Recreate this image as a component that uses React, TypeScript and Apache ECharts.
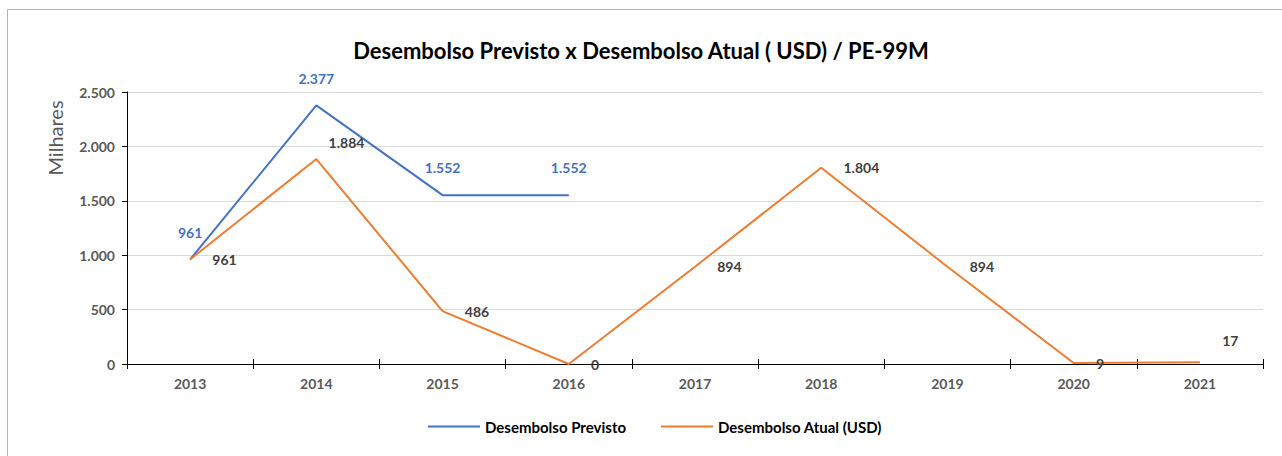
import React, { useEffect, useRef } from "react";
import * as echarts from "echarts";

const categories = ["2013", "2014", "2015", "2016", "2017", "2018", "2019", "2020", "2021"];
const previsto = [961, 2377, 1552, 1552, null, null, null, null, null];
const atual = [961, 1884, 486, 0, 894, 1804, 894, 9, 17];
const yTicks = { min: 0, max: 2500, interval: 500 };

const BLUE = "#4472C4";
const ORANGE = "#ED7D31";
const FONT = "Lato, 'Noto Sans', sans-serif";

const fmt = (v: number) => String(v).replace(/\B(?=(\d{3})+(?!\d))/g, ".");

export default function App() {
  const ref = useRef<HTMLDivElement>(null);
  useEffect(() => {
    if (!ref.current) return;
    const chart = echarts.init(ref.current, undefined, { renderer: "svg" });
    const atualData = atual.map((v, i) => {
      if (i === 1) return { value: v, label: { offset: [-10, -17] } };
      if (i === 8) return { value: v, label: { offset: [0, -22] } };
      return { value: v };
    });
    chart.setOption({
      animation: false,
      backgroundColor: "#ffffff",
      textStyle: { fontFamily: FONT },
      title: {
        text: "Desembolso Previsto x Desembolso Atual ( USD) / PE-99M",
        left: "center",
        top: 34,
        textStyle: { fontFamily: FONT, fontSize: 22, fontWeight: "bold", color: "#000000" },
      },
      graphic: [
        {
          type: "rect",
          shape: { x: 7.5, y: 9.5, width: 1400, height: 600 },
          style: { fill: "none", stroke: "#b4b4b4", lineWidth: 1 },
          silent: true,
        },
        {
          type: "text",
          x: 55,
          y: 138,
          rotation: Math.PI / 2,
          style: {
            text: "Milhares",
            fontFamily: FONT,
            fontSize: 20,
            fill: "#595959",
            textAlign: "center",
            textVerticalAlign: "middle",
          },
        },
      ],
      legend: {
        bottom: 17,
        left: 423,
        itemWidth: 52,
        itemHeight: 2,
        itemGap: 35,
        icon: "rect",
        textStyle: { fontFamily: FONT, fontSize: 15, fontWeight: "bold", color: "#000000" },
        data: ["Desembolso Previsto", "Desembolso Atual (USD)"],
      },
      grid: { left: 127, right: 19, top: 92, bottom: 92, containLabel: false },
      xAxis: [
        {
          type: "category",
          data: categories,
          boundaryGap: true,
          axisLine: { lineStyle: { color: "#000000", width: 1 } },
          axisTick: { show: true, inside: false, length: 5, lineStyle: { color: "#000000" } },
          axisLabel: { color: "#595959", fontWeight: "bold", fontSize: 14, margin: 12, fontFamily: FONT },
          splitLine: { show: false },
        },
        {
          type: "category",
          data: categories,
          position: "bottom",
          boundaryGap: true,
          axisLine: { show: false },
          axisTick: { show: true, inside: true, length: 5, lineStyle: { color: "#000000" } },
          axisLabel: { show: false },
          splitLine: { show: false },
        },
      ],
      yAxis: {
        type: "value",
        min: yTicks.min,
        max: yTicks.max,
        interval: yTicks.interval,
        axisLine: { show: true, lineStyle: { color: "#000000", width: 1 } },
        axisTick: { show: true, length: 5, lineStyle: { color: "#000000" } },
        axisLabel: {
          color: "#595959",
          fontWeight: "bold",
          fontSize: 14,
          margin: 12,
          fontFamily: FONT,
          formatter: (v: number) => fmt(v),
        },
        splitLine: { show: true, lineStyle: { color: "#d9d9d9", width: 1 } },
      },
      series: [
        {
          name: "Desembolso Previsto",
          type: "line",
          data: previsto,
          symbol: "circle",
          symbolSize: 0.5,
          showSymbol: true,
          lineStyle: { color: BLUE, width: 2 },
          itemStyle: { color: BLUE },
          label: {
            show: true,
            position: "top",
            distance: 20,
            color: BLUE,
            fontWeight: "bold",
            fontSize: 14,
            fontFamily: FONT,
            formatter: (p: any) => fmt(p.value),
          },
        },
        {
          name: "Desembolso Atual (USD)",
          type: "line",
          data: atualData,
          symbol: "circle",
          symbolSize: 0.5,
          showSymbol: true,
          lineStyle: { color: ORANGE, width: 2 },
          itemStyle: { color: ORANGE },
          label: {
            show: true,
            position: "right",
            distance: 22,
            color: "#404040",
            fontWeight: "bold",
            fontSize: 14,
            fontFamily: FONT,
            formatter: (p: any) => fmt(p.value),
          },
        },
      ],
    });
    return () => chart.dispose();
  }, []);
  return (
    <div
      ref={ref}
      style={{ position: "fixed", left: 0, top: 0, width: 1282, height: 456 }}
    />
  );
}
